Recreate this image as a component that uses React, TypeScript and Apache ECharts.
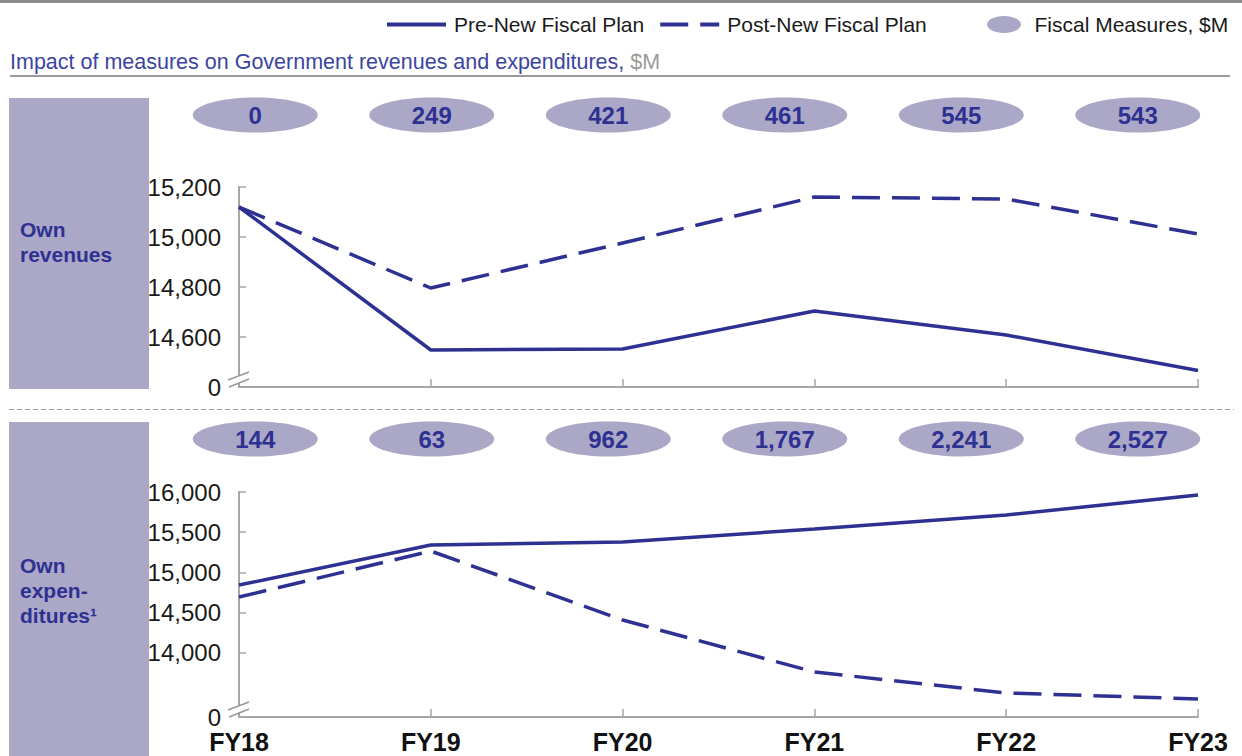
import React, { useEffect, useRef } from "react";
import * as echarts from "echarts";

const years = ["FY18", "FY19", "FY20", "FY21", "FY22", "FY23"];
const revenuePre = [15120, 14548, 14552, 14704, 14608, 14466];
const revenuePost = [15120, 14796, 14976, 15160, 15152, 15012];
const revenueMeasures = [0, 249, 421, 461, 545, 543];
const expenditurePre = [14842, 15340, 15377, 15539, 15713, 15962];
const expenditurePost = [14693, 15265, 14407, 13760, 13499, 13424];
const expenditureMeasures = [144, 63, 962, 1767, 2241, 2527];
const revenueTicks = [14600, 14800, 15000, 15200];
const expenditureTicks = [14000, 14500, 15000, 15500, 16000];
const revenueBreak = 14400; // position drawn as "0" on the broken axis
const expenditureBreak = 13200; // position drawn as "0" on the broken axis

const FONT = "'Liberation Sans', Arial, Helvetica, sans-serif";
const BLUE = "#2e3192";
const LAV = "#aaa8c6";
const GREY = "#a6a6a6";
const ELLIPSE =
  "path://M0,50 C0,22.4 44.8,0 100,0 C155.2,0 200,22.4 200,50 C200,77.6 155.2,100 100,100 C44.8,100 0,77.6 0,50 Z";

const fmt = (v: number) => v.toLocaleString("en-US");

function breakMark(axisX: number, axisY: number) {
  const up = axisY - 11;
  const lo = axisY - 4;
  return [
    {
      type: "polygon",
      z: 100,
      shape: {
        points: [
          [axisX - 3, up + 1],
          [axisX + 3, up - 1],
          [axisX + 3, lo - 1],
          [axisX - 3, lo + 1],
        ],
      },
      style: { fill: "#fff" },
    },
    {
      type: "line",
      z: 101,
      shape: { x1: axisX - 11, y1: up + 4, x2: axisX + 10, y2: up - 4 },
      style: { stroke: "#999", lineWidth: 1.5 },
    },
    {
      type: "line",
      z: 101,
      shape: { x1: axisX - 10, y1: lo + 4, x2: axisX + 10, y2: lo - 4 },
      style: { stroke: "#999", lineWidth: 1.5 },
    },
  ];
}

export default function App() {
  const ref = useRef<HTMLDivElement>(null);
  useEffect(() => {
    if (!ref.current) return;
    const chart = echarts.init(ref.current, undefined, { renderer: "svg" });

    const bubbleX = (grid: number) => ({
      type: "category",
      gridIndex: grid,
      data: years,
      boundaryGap: true,
      show: false,
    });
    const lineX = (grid: number, labels: boolean) => ({
      type: "category",
      gridIndex: grid,
      data: years,
      boundaryGap: false,
      axisLine: { show: true, lineStyle: { color: GREY, width: 2 } },
      axisTick: { show: true, inside: true, length: 8, lineStyle: { color: GREY, width: 1.5 } },
      axisLabel: {
        show: labels,
        fontFamily: FONT,
        fontSize: 25,
        lineHeight: 20,
        fontWeight: "bold",
        color: "#111",
        margin: 15,
      },
      splitLine: { show: false },
    });
    const lineY = (grid: number, min: number, max: number, ticks: number[]) => ({
      type: "value",
      gridIndex: grid,
      min,
      max,
      axisLine: { show: true, lineStyle: { color: GREY, width: 2 } },
      axisTick: {
        show: true,
        inside: true,
        length: 7,
        customValues: ticks,
        lineStyle: { color: GREY, width: 1.5 },
      },
      axisLabel: {
        customValues: [min, ...ticks],
        formatter: (v: number) => (v === min ? "0" : fmt(v)),
        fontFamily: FONT,
        fontSize: 24,
        lineHeight: 18,
        color: "#1a1a1a",
        margin: 18,
      },
      splitLine: { show: false },
    });
    const bubbleSeries = (idx: number, values: number[]) => ({
      type: "scatter",
      name: "Fiscal Measures, $M",
      xAxisIndex: idx,
      yAxisIndex: idx,
      symbol: ELLIPSE,
      symbolSize: [125, 35],
      itemStyle: { color: LAV, opacity: 1 },
      data: values.map((m, i) => [i, 0, m]),
      label: {
        show: true,
        position: "inside",
        formatter: (p: any) => fmt(p.value[2]),
        fontFamily: FONT,
        fontSize: 24,
        fontWeight: "bold",
        color: BLUE,
      },
      emphasis: { disabled: true },
    });
    const lineSeries = (idx: number, name: string, values: number[], dashed: boolean) => ({
      type: "line",
      name,
      xAxisIndex: idx,
      yAxisIndex: idx,
      data: values,
      symbol: "none",
      lineStyle: { color: BLUE, width: 3.5, type: dashed ? [28, 12] : "solid" },
      itemStyle: { color: BLUE },
      emphasis: { disabled: true },
    });

    chart.setOption({
      animation: false,
      backgroundColor: "#fff",
      legend: [
        {
          data: ["Pre-New Fiscal Plan", "Post-New Fiscal Plan"],
          left: 380,
          top: 9,
          itemWidth: 59,
          itemHeight: 14,
          itemGap: 14,
          selectedMode: false,
          itemStyle: { opacity: 0, color: "transparent", borderWidth: 0 },
          lineStyle: { width: 4 },
          textStyle: { fontFamily: FONT, fontSize: 21, color: "#1a1a1a", padding: [0, 0, 0, 3] },
        },
        {
          data: [{ name: "Fiscal Measures, $M", icon: ELLIPSE }],
          left: 982,
          top: 9,
          itemWidth: 43,
          itemHeight: 17,
          selectedMode: false,
          textStyle: { fontFamily: FONT, fontSize: 21, color: "#1a1a1a", padding: [0, 0, 0, 4] },
        },
      ],
      grid: [
        { left: 167, right: 16, top: 97, height: 36 },
        { left: 239, width: 959, top: 187, height: 200 },
        { left: 167, right: 16, top: 421, height: 36 },
        { left: 239, width: 959, top: 492, height: 225 },
      ],
      xAxis: [bubbleX(0), lineX(1, false), bubbleX(2), lineX(3, true)],
      yAxis: [
        { type: "value", gridIndex: 0, min: -1, max: 1, show: false },
        lineY(1, revenueBreak, 15200, revenueTicks),
        { type: "value", gridIndex: 2, min: -1, max: 1, show: false },
        lineY(3, expenditureBreak, 16000, expenditureTicks),
      ],
      series: [
        bubbleSeries(0, revenueMeasures),
        lineSeries(1, "Pre-New Fiscal Plan", revenuePre, false),
        lineSeries(1, "Post-New Fiscal Plan", revenuePost, true),
        bubbleSeries(2, expenditureMeasures),
        lineSeries(3, "Pre-New Fiscal Plan", expenditurePre, false),
        lineSeries(3, "Post-New Fiscal Plan", expenditurePost, true),
      ],
      graphic: [
        { type: "rect", shape: { x: 0, y: 0, width: 1242, height: 3 }, style: { fill: "#8c8c8c" } },
        {
          type: "text",
          x: 10,
          y: 62,
          style: {
            text: "{a|Impact of measures on Government revenues and expenditures, }{b|$M}",
            verticalAlign: "middle",
            rich: {
              a: { fontFamily: FONT, fontSize: 21.5, fill: "#3b45a0", color: "#3b45a0" },
              b: { fontFamily: FONT, fontSize: 21.5, fill: "#9a9a9a", color: "#9a9a9a" },
            },
          },
        },
        { type: "line", shape: { x1: 10, y1: 76, x2: 1230, y2: 76 }, style: { stroke: "#9a9a9a", lineWidth: 2 } },
        { type: "rect", shape: { x: 9, y: 98, width: 140, height: 291 }, style: { fill: LAV } },
        { type: "rect", shape: { x: 9, y: 422, width: 140, height: 334 }, style: { fill: LAV } },
        {
          type: "text",
          x: 20,
          y: 217,
          style: {
            text: "Own\nrevenues",
            font: `bold 21px ${FONT}`,
            lineHeight: 25,
            fill: BLUE,
            verticalAlign: "top",
          },
        },
        {
          type: "text",
          x: 20,
          y: 553,
          style: {
            text: "Own\nexpen-\nditures\u00b9",
            font: `bold 21px ${FONT}`,
            lineHeight: 25,
            fill: BLUE,
            verticalAlign: "top",
          },
        },
        {
          type: "line",
          shape: { x1: 9, y1: 409.5, x2: 1234, y2: 409.5 },
          style: { stroke: "#a0a0a0", lineWidth: 1, lineDash: [5, 3] },
        },
        ...breakMark(239, 387),
        ...breakMark(239, 717),
      ],
    });
    return () => chart.dispose();
  }, []);
  return (
    <div
      ref={ref}
      style={{ position: "fixed", left: 0, top: 0, width: 1242, height: 756, background: "#fff" }}
    />
  );
}
